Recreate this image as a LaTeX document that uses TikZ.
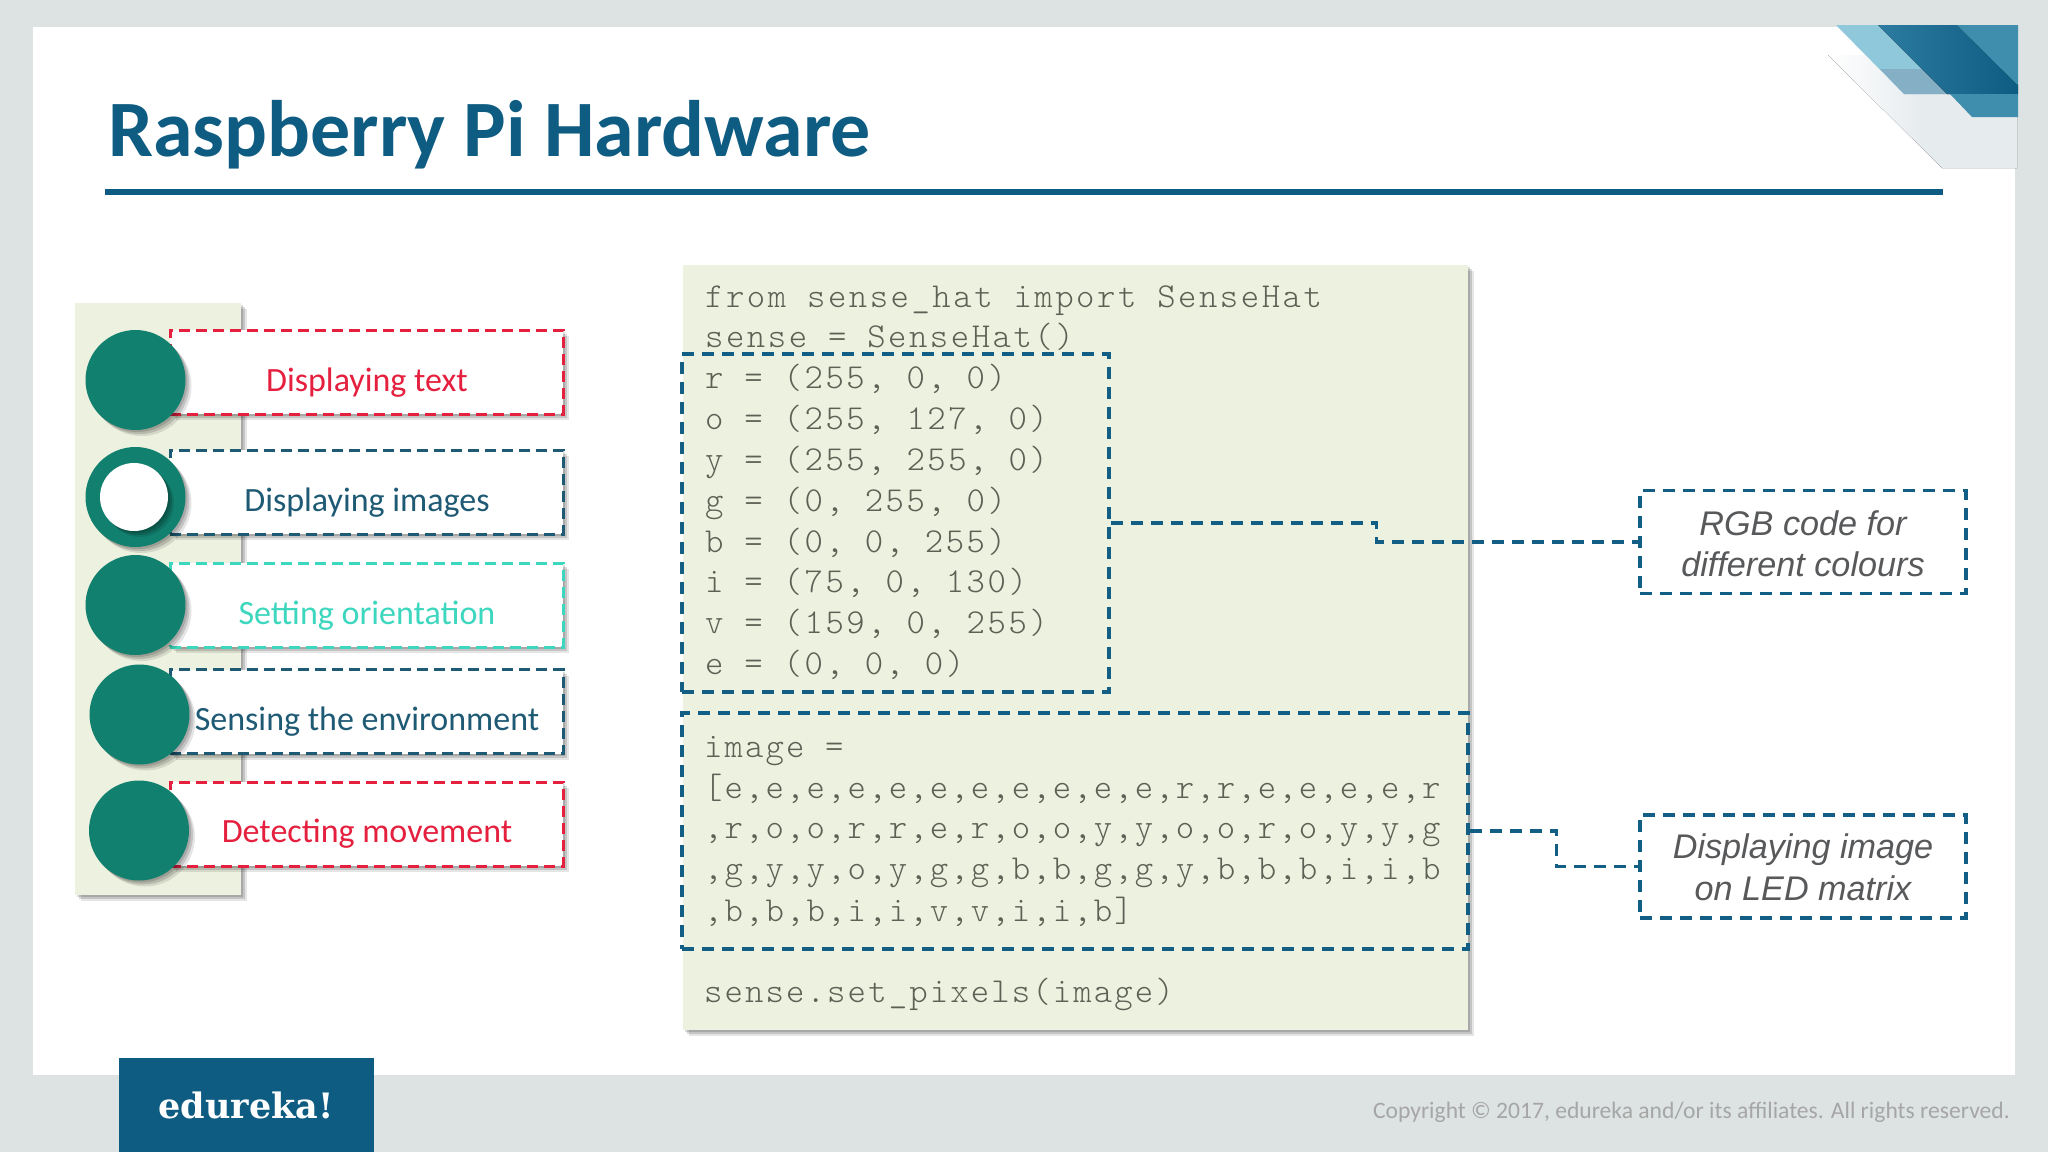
\documentclass[tikz,border=0pt]{standalone}
\usepackage{fontspec}
\setmainfont{Carlito}
\newfontfamily\notefont{Liberation Sans}
\newfontfamily\logofont{DejaVu Serif}
\newfontfamily\codefont[LetterSpace=7.2]{Latin Modern Mono Light}
\newfontfamily\gridfont[LetterSpace=6.1]{Latin Modern Mono Light}
\usetikzlibrary{positioning, shadows}

\definecolor{pagegray}{HTML}{DDE3E2}
\definecolor{panelgreen}{HTML}{EDF1DF}
\definecolor{titleblue}{HTML}{0F5C82}
\definecolor{dashblue}{HTML}{125E85}
\definecolor{dotgreen}{HTML}{12806E}
\definecolor{itemred}{HTML}{E5203F}
\definecolor{itemnavy}{HTML}{1F5A75}
\definecolor{itemaqua}{HTML}{3DD6BE}
\definecolor{codegray}{HTML}{5F6055}
\definecolor{notegray}{HTML}{58595B}

\tikzset{
	softshadow/.style={
		drop shadow={shadow xshift=2pt, shadow yshift=-2pt, opacity=.14, fill=black},
		drop shadow={shadow xshift=4pt, shadow yshift=-4pt, opacity=.14, fill=black},
		drop shadow={shadow xshift=6pt, shadow yshift=-6pt, opacity=.10, fill=black}},
	itembox/.style={draw=#1, fill=white, line width=3pt, dash pattern=on 11pt off 6pt,
		minimum width=393pt, minimum height=84pt, inner sep=0pt, softshadow},
	itemtext/.style={text=#1, anchor=base, font=\fontsize{34}{40}\selectfont, inner sep=0pt},
	dot/.style={circle, fill=dotgreen, minimum size=100pt, inner sep=0pt, softshadow},
	codeline/.style={anchor=base west, inner sep=0pt, text=codegray, font=\fontsize{35}{41}\codefont},
	gridline/.style={anchor=base west, inner sep=0pt, text=codegray, font=\fontsize{35}{41}\gridfont},
	block/.style={draw=dashblue, line width=3.2pt, dash pattern=on 12pt off 8pt, inner sep=0pt},
	note/.style={block, fill=white, minimum width=326pt, minimum height=103pt, align=center,
		text=notegray, font=\fontsize{34.2}{41.5}\notefont\itshape},
	link/.style={draw=dashblue, line width=3.2pt, dash pattern=on 12pt off 8pt},
}

\begin{document}
\begin{tikzpicture}[x=1pt, y=-1pt]
	
	\useasboundingbox (0,0) rectangle (2048,1152);
	\fill[pagegray] (0,0) rectangle (2048,1152);
	\fill[white] (33,27) rectangle (2015,1075);
	
	% corner
	\definecolor{cornerlow}{HTML}{E6EBEE}
	\definecolor{cornerlight}{HTML}{8FC8DA}
	\definecolor{cornermid}{HTML}{84AFC5}
	\definecolor{cornerdeep}{HTML}{2C7BA0}
	\definecolor{cornersoft}{HTML}{3F8EAD}
	\fill[left color=white, right color=cornerlow, middle color=cornerlow] (1828,55) -- (2017,55) -- (2017,168) -- (1942,168) -- cycle;
	\fill[cornerlight] (1836,25) -- (1878,25) -- (1947,94) -- (1904,94) -- cycle;
	\fill[cornermid] (1880,69) -- (1922,69) -- (1947,94) -- (1904,94) -- cycle;
	\fill[left color=cornerdeep, right color=titleblue] (1878,25) -- (1957,25) -- (2018,85) -- (2018,94) -- (1947,94) -- cycle;
	\fill[cornersoft] (1957,25) -- (2018,25) -- (2018,85) -- cycle;
	\fill[cornersoft] (1950,94) -- (2018,94) -- (2018,117) -- (1972,117) -- cycle;
	
	% title
	\node[anchor=base west, inner sep=0pt, text=titleblue, font=\fontsize{80}{88}\selectfont\bfseries] (title) at (108,156) {Raspberry Pi Hardware};
	\fill[titleblue] (105,189) rectangle (1943,195);
	
	% left list
	\path[fill=panelgreen, softshadow] (75,303) rectangle (241,895);
	\foreach \nm/\cy/\col in {a/372/itemred, b/492/itemnavy, c/605/itemaqua, d/711.5/itemnavy, e/824/itemred}
		\node[itembox=\col] (box\nm) at (366.5,\cy) {};
	\foreach \nm/\x/\y in {a/135.5/380, b/135.5/497, c/135.5/605, d/139.5/714.5, e/139/830.5}
		\node[dot] (dot\nm) at (\x,\y) {};
	\node[circle, fill=white, minimum size=68pt, inner sep=0pt, softshadow] (hole) at (134,497) {};
	\foreach \nm/\y/\col/\txt in {a/391/itemred/Displaying text, b/511/itemnavy/Displaying images, c/624.5/itemaqua/Setting orientation, d/730/itemnavy/Sensing the environment, e/842.5/itemred/Detecting movement}
		\node[itemtext=\col] (item\nm) at (367,\y) {\txt};
	
	% code
	\path[fill=panelgreen, softshadow] (682.5,265) rectangle (1468,1030);
	\foreach \y/\txt in {
		307/{from sense\_hat import SenseHat},
		347/{sense = SenseHat()},
		388/{r = (255, 0, 0)},
		429/{o = (255, 127, 0)},
		470/{y = (255, 255, 0)},
		511/{g = (0, 255, 0)},
		552/{b = (0, 0, 255)},
		592/{i = (75, 0, 130)},
		633/{v = (159, 0, 255)},
		674/{e = (0, 0, 0)}}
		\node[codeline] (line\y) at (705,\y) {\txt};
	\foreach \y/\txt in {
		757/{image =},
		798/{[e,e,e,e,e,e,e,e,e,e,e,r,r,e,e,e,e,r},
		838/{,r,o,o,r,r,e,r,o,o,y,y,o,o,r,o,y,y,g},
		879/{,g,y,y,o,y,g,g,b,b,g,g,y,b,b,b,i,i,b},
		921/{,b,b,b,i,i,v,v,i,i,b]},
		1002/{sense.set\_pixels(image)}}
		\node[gridline] (line\y) at (704,\y) {\txt};
	
	\node[block, minimum width=427pt, minimum height=338pt] (rgbblock) at (895.5,523) {};
	\node[block, minimum width=786pt, minimum height=236pt] (imgblock) at (1075,831) {};
	
	% notes
	\node[note] (rgbnote) at (1803,542) {\rule{0pt}{28pt}RGB code for\\different colours};
	\node[note] (imgnote) at (1803,866.5) {\rule{0pt}{26pt}Displaying image\\on LED matrix};
	\draw[link] (rgbblock.east) -- ++(266,0) |- (rgbnote.west);
	\draw[link] (imgblock.east) -- ++(87,0) |- (imgnote.west);
	
	% footer
	\fill[titleblue] (119,1058) rectangle (374,1152);
	\node[anchor=base, inner sep=0pt, text=white, font=\fontsize{35}{42}\logofont\bfseries] (logo) at (246,1118) {edureka!};
	\node[anchor=base east, inner sep=0pt, text=black!35, font=\fontsize{23.6}{28}\selectfont] (copyright) at (2010,1118) {Copyright © 2017, edureka and/or its affiliates. All rights reserved.};
	
\end{tikzpicture}
\end{document}
